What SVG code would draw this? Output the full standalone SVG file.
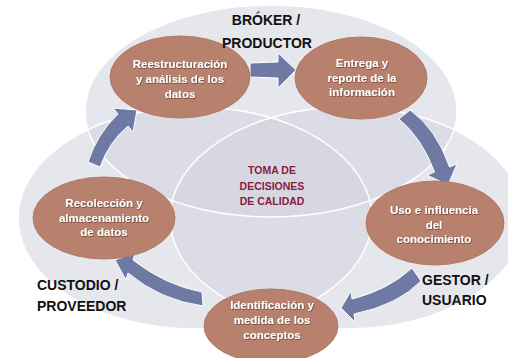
<svg xmlns="http://www.w3.org/2000/svg" width="508" height="358" viewBox="0 0 508 358">
<style>
.bg{fill:#d2d4de;fill-opacity:0.55;stroke:none}
.bgs{fill:none;stroke:#ffffff;stroke-width:1.5}
.node{fill:#b8816e;stroke:#b07a67;stroke-width:1}
.nt{font-family:"Liberation Sans",Arial,sans-serif;font-weight:bold;font-size:11.5px;fill:#ffffff;text-anchor:middle;filter:url(#sh)}
.lbl{font-family:"Liberation Sans",Arial,sans-serif;font-weight:bold;font-size:14px;fill:#111111}
.ct{font-family:"Liberation Sans",Arial,sans-serif;font-weight:bold;font-size:10.5px;fill:#8c1a40;text-anchor:middle}
.arr{fill:#6e7aa3;stroke:#ffffff;stroke-width:1;stroke-linejoin:round}
</style>
<defs>
<filter id="sh" x="-10%" y="-30%" width="120%" height="160%">
<feDropShadow dx="0.6" dy="0.8" stdDeviation="0.4" flood-color="#5a3020" flood-opacity="0.8"/>
</filter>
</defs>
<rect width="508" height="358" fill="#ffffff"/>
<g id="background">
<ellipse class="bg" cx="271" cy="111" rx="186" ry="106"/>
<ellipse class="bg" cx="195" cy="218" rx="177" ry="111"/>
<ellipse class="bg" cx="347" cy="218" rx="177" ry="111"/>
<ellipse class="bgs" cx="271" cy="111" rx="186" ry="106"/>
<ellipse class="bgs" cx="195" cy="218" rx="177" ry="111"/>
<ellipse class="bgs" cx="347" cy="218" rx="177" ry="111"/>
</g>
<g id="center-label">
<text class="ct" x="272" y="174">TOMA DE</text>
<text class="ct" x="272" y="190">DECISIONES</text>
<text class="ct" x="272" y="205">DE CALIDAD</text>
</g>
<g id="connectors">
<path class="arr" d="M88,162 Q97,134 118,114 L113,108 L137,110 L133,132 L128,126 Q109,142 100,167 Z"/>
<path class="arr" d="M250,63 L278,62 L278,53 L296,70 L278,88 L278,78 L250,77 Z"/>
<path class="arr" d="M399,119 Q422,138 434.5,172 L427,175 L448,185 L457,164 L449.5,167 Q436,128 410,110 Z"/>
<path class="arr" d="M412,268 Q388,290 352,299 L351,291 L341,308 L355,322 L354,314 Q398,305 421,281 Z"/>
<path class="arr" d="M202,292 Q165,285 133,260 L135,253 L115,260 L126,280 L128,273 Q160,300 203,306 Z"/>
</g>
<g id="n1">
<ellipse class="node" cx="180" cy="77" rx="70" ry="41"/>
<text class="nt" x="180" y="68">Reestructuración</text>
<text class="nt" x="180" y="83">y análisis de los</text>
<text class="nt" x="180" y="98">datos</text>
</g>
<g id="n2">
<ellipse class="node" cx="361" cy="78" rx="66" ry="41"/>
<text class="nt" x="362" y="67">Entrega y</text>
<text class="nt" x="362" y="82">reporte de la</text>
<text class="nt" x="362" y="96">información</text>
</g>
<g id="n3">
<ellipse class="node" cx="435" cy="223" rx="69" ry="42"/>
<text class="nt" x="434" y="214">Uso e influencia</text>
<text class="nt" x="434" y="229">del</text>
<text class="nt" x="434" y="243">conocimiento</text>
</g>
<g id="n4">
<ellipse class="node" cx="271" cy="326" rx="67" ry="37"/>
<text class="nt" x="272" y="309">Identificación y</text>
<text class="nt" x="272" y="324">medida de los</text>
<text class="nt" x="272" y="339">conceptos</text>
</g>
<g id="n5">
<ellipse class="node" cx="104" cy="218" rx="71" ry="41"/>
<text class="nt" x="104" y="207">Recolección y</text>
<text class="nt" x="104" y="222">almacenamiento</text>
<text class="nt" x="104" y="236">de datos</text>
</g>
<g id="labels">
<text class="lbl" x="266" y="25" text-anchor="middle">BRÓKER /</text>
<text class="lbl" x="267" y="48" text-anchor="middle">PRODUCTOR</text>
<text class="lbl" x="37" y="290">CUSTODIO /</text>
<text class="lbl" x="37" y="311">PROVEEDOR</text>
<text class="lbl" x="422" y="285">GESTOR /</text>
<text class="lbl" x="422" y="305">USUARIO</text>
</g>
</svg>
